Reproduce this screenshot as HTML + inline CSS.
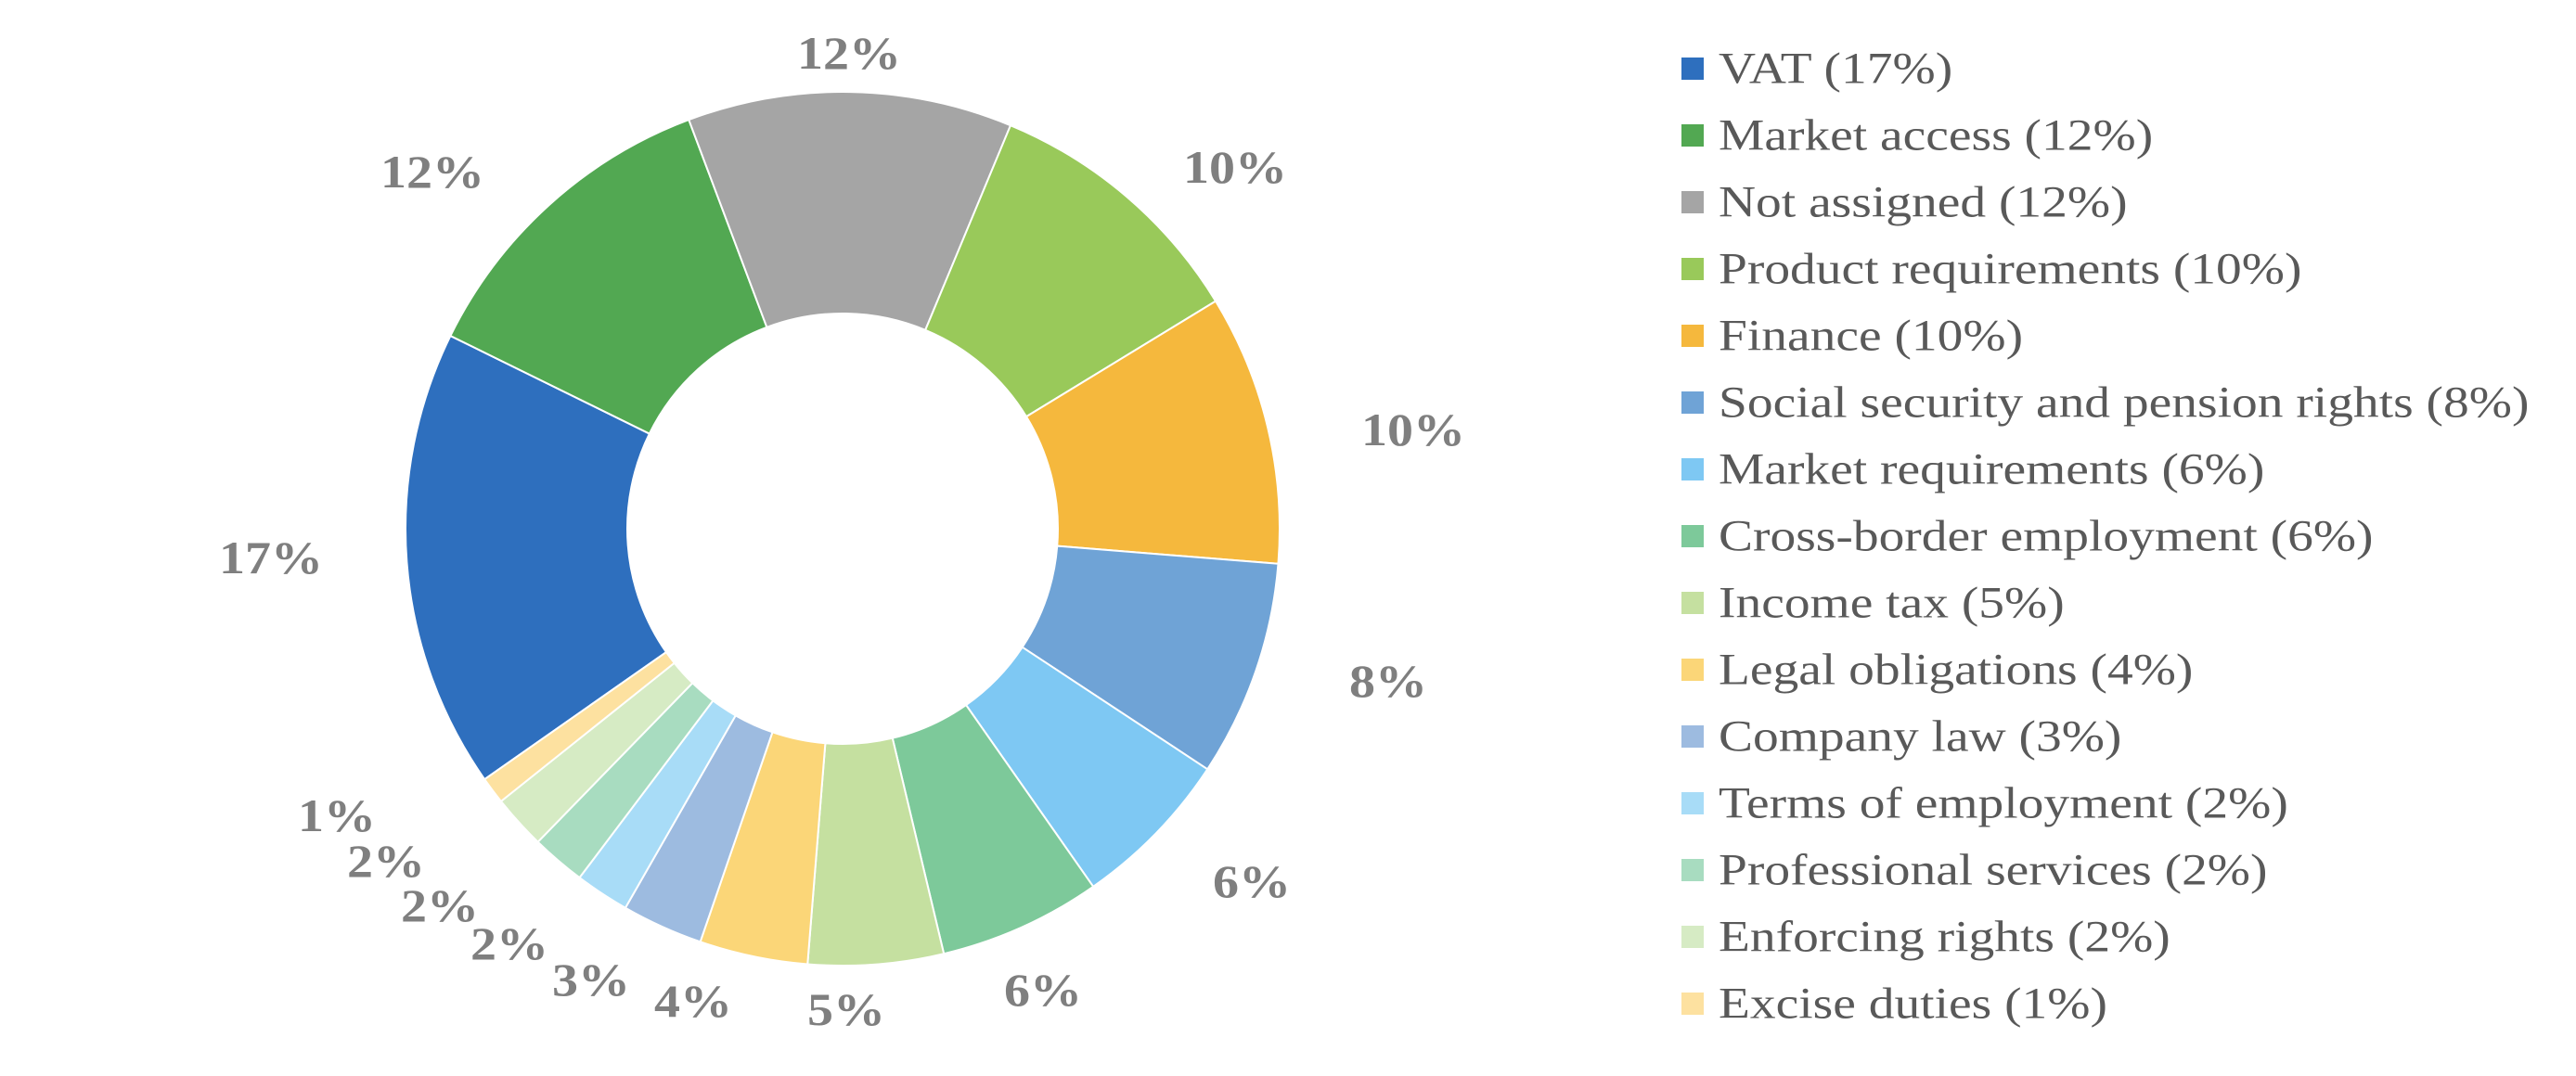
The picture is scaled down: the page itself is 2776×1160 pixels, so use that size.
<!DOCTYPE html>
<html><head><meta charset="utf-8"><style>
html,body{margin:0;padding:0;background:#fff;}
svg{display:block;}
.lab{font-family:"Liberation Serif",serif;font-weight:bold;font-size:50px;fill:#7f7f7f;text-anchor:middle;dominant-baseline:central;}
.leg{font-family:"Liberation Serif",serif;font-size:48px;fill:#595959;dominant-baseline:central;}
</style></head><body>
<svg id="s" width="2776" height="1160" viewBox="0 0 2776 1160" xmlns="http://www.w3.org/2000/svg">
<g id="slices"></g>
<g id="labs">
<text class="lab" data-x="915" data-y="58">12%</text>
<text class="lab" data-x="466" data-y="186">12%</text>
<text class="lab" data-x="1331" data-y="181">10%</text>
<text class="lab" data-x="1523" data-y="464">10%</text>
<text class="lab" data-x="1496" data-y="735">8%</text>
<text class="lab" data-x="1349" data-y="951">6%</text>
<text class="lab" data-x="1124" data-y="1068">6%</text>
<text class="lab" data-x="912" data-y="1089">5%</text>
<text class="lab" data-x="747" data-y="1080">4%</text>
<text class="lab" data-x="637" data-y="1057">3%</text>
<text class="lab" data-x="549" data-y="1018">2%</text>
<text class="lab" data-x="474" data-y="977">2%</text>
<text class="lab" data-x="416" data-y="929">2%</text>
<text class="lab" data-x="363" data-y="880">1%</text>
<text class="lab" data-x="292" data-y="602">17%</text>
</g>
<g id="legend"></g>
</svg>
<script>
var d=[["VAT",17,"#2e6fbe"],["Market access",12,"#52a852"],["Not assigned",12,"#a5a5a5"],["Product requirements",10,"#99c95a"],["Finance",10,"#f5b83d"],["Social security and pension rights",8,"#6fa3d6"],["Market requirements",6,"#7ec8f3"],["Cross-border employment",6,"#7dc99a"],["Income tax",5,"#c5e0a0"],["Legal obligations",4,"#fbd678"],["Company law",3,"#9dbbe0"],["Terms of employment",2,"#a8dcf7"],["Professional services",2,"#a8dcc0"],["Enforcing rights",2,"#d6ebc4"],["Excise duties",1,"#fde1a0"]];
var cx=908,cy=570,R=471,r=232,a=235,NS="http://www.w3.org/2000/svg";
function p(t,rad){var q=t*Math.PI/180;return [cx+rad*Math.sin(q),cy-rad*Math.cos(q)];}
var g=document.getElementById("slices"),L=document.getElementById("legend");
d.forEach(function(e,i){var b=a+e[1]*3.6;var p1=p(a,R),p2=p(b,R),p3=p(b,r),p4=p(a,r);var lg=e[1]*3.6>180?1:0;
var path=document.createElementNS(NS,"path");
path.setAttribute("d","M"+p1+"A"+R+","+R+" 0 "+lg+" 1 "+p2+"L"+p3+"A"+r+","+r+" 0 "+lg+" 0 "+p4+"Z");
path.setAttribute("fill",e[2]);path.setAttribute("stroke","#fff");path.setAttribute("stroke-width","2");g.appendChild(path);a=b;
var y=74+i*72;var rc=document.createElementNS(NS,"rect");rc.setAttribute("x",1812);rc.setAttribute("y",y-12);rc.setAttribute("width",24);rc.setAttribute("height",24);rc.setAttribute("fill",e[2]);L.appendChild(rc);
var t=document.createElementNS(NS,"text");t.setAttribute("class","leg");t.setAttribute("x",0);t.setAttribute("y",0);t.setAttribute("transform","translate(1852,"+y+") scale(1.156,1)");t.textContent=e[0]+" ("+e[1]+"%)";L.appendChild(t);});
Array.prototype.forEach.call(document.querySelectorAll("#labs text"),function(t){t.setAttribute("x",0);t.setAttribute("y",0);t.setAttribute("transform","translate("+t.getAttribute("data-x")+","+t.getAttribute("data-y")+") scale(1.12,1)");t.removeAttribute("data-x");t.removeAttribute("data-y");});
</script>
</body></html>
